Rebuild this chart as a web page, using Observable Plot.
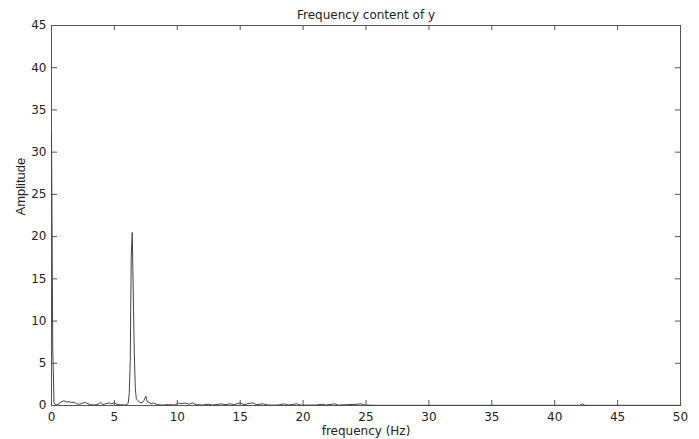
<!DOCTYPE html>
<html>
<head>
<meta charset="utf-8">
<script src="https://cdn.jsdelivr.net/npm/d3@7"></script>
<script src="https://cdn.jsdelivr.net/npm/@observablehq/plot@0.6"></script>
<style>
  html, body { margin: 0; padding: 0; background: #fff; }
</style>
</head>
<body>
<div id="chart"></div>
<script>
const titleText = "Frequency content of y";
const xLabel = "frequency (Hz)";
const yLabel = "Amplitude";
const xTicks = [0, 5, 10, 15, 20, 25, 30, 35, 40, 45, 50];
const yTicks = [0, 5, 10, 15, 20, 25, 30, 35, 40, 45];

const freq = [
  0, 0.1, 0.2, 0.35, 0.6, 0.8, 1.0, 1.2, 1.4, 1.6, 1.8, 2.0, 2.2, 2.5, 2.7, 2.9, 3.1, 3.4, 3.7, 3.9,
  4.1, 4.4, 4.6, 4.8, 5.0, 5.2, 5.5, 5.8, 6.0, 6.1, 6.18, 6.26, 6.34, 6.42, 6.5, 6.58, 6.66, 6.74,
  6.85, 7.0, 7.2, 7.35, 7.5, 7.6, 7.75, 7.9, 8.1, 8.4, 8.8, 9.3, 9.8, 10.1, 10.3, 10.6, 10.9, 11.2,
  11.5, 12.0, 12.5, 12.8, 13.5, 13.8, 14.2, 14.5, 15.0, 15.3, 15.7, 16.0, 16.3, 16.8, 17.2, 18.0,
  18.5, 18.8, 19.5, 19.8, 21.0, 21.5, 21.8, 22.5, 22.8, 24.3, 24.6, 24.9, 26.0, 42.0, 42.2, 42.4, 50
];
const amp = [
  32.3, 6.8, 0.3, 0.05, 0.2, 0.45, 0.55, 0.4, 0.45, 0.35, 0.4, 0.2, 0.15, 0.3, 0.35, 0.2, 0.1, 0.05, 0.15, 0.35,
  0.1, 0.25, 0.3, 0.2, 0.35, 0.1, 0.1, 0.05, 0.1, 0.3, 1.4, 5.3, 17.8, 20.5, 13.3, 6.3, 2.1, 0.8,
  0.6, 0.4, 0.3, 0.6, 1.1, 0.5, 0.4, 0.2, 0.3, 0.1, 0.05, 0.1, 0.05, 0.3, 0.2, 0.3, 0.15, 0.3,
  0.1, 0.05, 0.15, 0.05, 0.2, 0.1, 0.2, 0.1, 0.3, 0.1, 0.25, 0.3, 0.1, 0.2, 0.05, 0.05,
  0.2, 0.05, 0.2, 0.05, 0.05, 0.15, 0.05, 0.2, 0.05, 0.15, 0.2, 0.05, 0.02, 0.02, 0.2, 0.02, 0.02
];

const data = freq.map((f, i) => ({f, a: amp[i]}));
const axisColor = "#555";
const wideFont = "DejaVu Sans, Verdana, sans-serif";

const chart = Plot.plot({
  width: 699,
  height: 439,
  marginLeft: 51,
  marginRight: 19,
  marginTop: 25,
  marginBottom: 34,
  style: {fontFamily: wideFont, fontSize: "12px", color: "#222", background: "#fff"},
  x: {domain: [0, 50]},
  y: {domain: [0, 45]},
  marks: [
    Plot.frame({stroke: axisColor, strokeWidth: 1}),
    Plot.axisX({ticks: xTicks, anchor: "bottom", tickSize: -5, tickPadding: 12, label: null, stroke: axisColor, fill: "#222"}),
    Plot.axisX({ticks: xTicks, anchor: "top", tickSize: -4, tickFormat: () => "", label: null, stroke: axisColor}),
    Plot.axisY({ticks: yTicks, anchor: "left", tickSize: -6, tickPadding: 11, label: null, stroke: axisColor, fill: "#222"}),
    Plot.axisY({ticks: yTicks, anchor: "right", tickSize: -6, tickFormat: () => "", label: null, stroke: axisColor}),
    Plot.line(data, {x: "f", y: "a", stroke: "#444", strokeWidth: 1}),
    Plot.text([titleText], {frameAnchor: "top", lineAnchor: "middle", dy: -10, fontSize: 12, fill: "#222"}),
    Plot.text([xLabel], {frameAnchor: "bottom", lineAnchor: "middle", dy: 26, fontSize: 12, fill: "#222"}),
    Plot.text([yLabel], {frameAnchor: "left", dx: -31, rotate: -90, fontSize: 13, fontFamily: "Liberation Sans, Arial, sans-serif", fill: "#222"})
  ]
});
document.getElementById("chart").appendChild(chart);
</script>
</body>
</html>
